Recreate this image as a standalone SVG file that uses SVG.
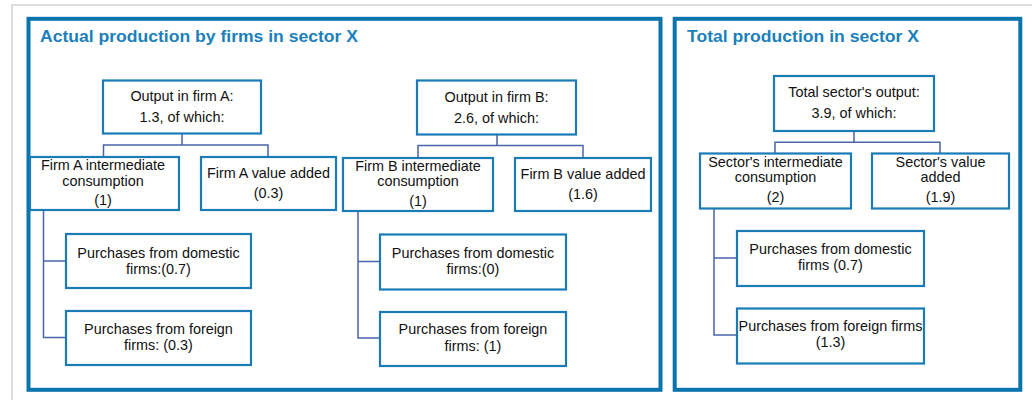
<svg xmlns="http://www.w3.org/2000/svg" width="1032" height="400" viewBox="0 0 1032 400">
<style>
.panel{fill:#fff;stroke:#0b74ad;stroke-width:4}
.box{fill:#fff;stroke:#1a7bb6;stroke-width:2.2}
.t{font-family:"Liberation Sans",Arial,sans-serif;font-size:14.4px;fill:#111;text-anchor:middle}
.title{font-family:"Liberation Sans",Arial,sans-serif;font-size:17px;font-weight:bold;fill:#1b7fbc}
.conn{fill:none;stroke:#4a64aa;stroke-width:1.5}
</style>
<rect x="0" y="0" width="1032" height="400" fill="#fff"/>
<path d="M12,400 V5 H1032" fill="none" stroke="#d2d2d2" stroke-width="1.5"/>
<g id="panel-left">
<rect class="panel" x="28.5" y="18.8" width="632" height="371"/>
<text class="title" x="40" y="42" textLength="318" lengthAdjust="spacingAndGlyphs">Actual production by firms in sector X</text>
</g>
<g id="panel-right">
<rect class="panel" x="674.7" y="18.8" width="345.6" height="371"/>
<text class="title" x="687" y="42" textLength="232" lengthAdjust="spacingAndGlyphs">Total production in sector X</text>
</g>
<g id="connectors">
<path class="conn" d="M182,134 V145 M103.5,157 V145 H268 V157"/>
<path class="conn" d="M43.5,210 V337.5 H66 M43.5,261 H66"/>
<path class="conn" d="M497,135 V145.5 M418,158 V145.5 H583 V158"/>
<path class="conn" d="M358,211 V338 H380 M358,261.5 H380"/>
<path class="conn" d="M854,131 V142.3 M775,153.5 V142.3 H940 V153.5"/>
<path class="conn" d="M714,208.5 V335 H737 M714,258 H737"/>
</g>
<g id="firmA-output">
<rect class="box" x="103" y="80.5" width="158" height="53"/>
<text class="t" x="182" y="101">Output in firm A:</text>
<text class="t" x="182" y="122">1.3, of which:</text>
</g>
<g id="firmA-ic">
<rect class="box" x="30" y="157" width="149" height="53"/>
<text class="t" x="103" y="170">Firm A intermediate</text>
<text class="t" x="103" y="185.5">consumption</text>
<text class="t" x="103" y="205">(1)</text>
</g>
<g id="firmA-va">
<rect class="box" x="201" y="157" width="135" height="53"/>
<text class="t" x="268.5" y="177.5">Firm A value added</text>
<text class="t" x="268.5" y="198">(0.3)</text>
</g>
<g id="firmA-dom">
<rect class="box" x="66" y="234" width="185" height="54"/>
<text class="t" x="158.5" y="257.5">Purchases from domestic</text>
<text class="t" x="158.5" y="273.5">firms:(0.7)</text>
</g>
<g id="firmA-for">
<rect class="box" x="66" y="311" width="185" height="54"/>
<text class="t" x="158.5" y="333.5">Purchases from foreign</text>
<text class="t" x="158.5" y="350">firms: (0.3)</text>
</g>
<g id="firmB-output">
<rect class="box" x="417" y="80.5" width="159" height="54"/>
<text class="t" x="496.5" y="102">Output in firm B:</text>
<text class="t" x="496.5" y="122.5">2.6, of which:</text>
</g>
<g id="firmB-ic">
<rect class="box" x="343" y="158" width="150" height="53"/>
<text class="t" x="418" y="170.5">Firm B intermediate</text>
<text class="t" x="418" y="186">consumption</text>
<text class="t" x="418" y="205.5">(1)</text>
</g>
<g id="firmB-va">
<rect class="box" x="515" y="158" width="136" height="53"/>
<text class="t" x="583" y="178.5">Firm B value added</text>
<text class="t" x="583" y="198.5">(1.6)</text>
</g>
<g id="firmB-dom">
<rect class="box" x="380" y="234.5" width="186" height="55"/>
<text class="t" x="473" y="257.5">Purchases from domestic</text>
<text class="t" x="473" y="274">firms:(0)</text>
</g>
<g id="firmB-for">
<rect class="box" x="380" y="312" width="186" height="54"/>
<text class="t" x="473" y="333.5">Purchases from foreign</text>
<text class="t" x="473" y="351">firms: (1)</text>
</g>
<g id="sector-output">
<rect class="box" x="774" y="76" width="160" height="55"/>
<text class="t" x="854" y="97">Total sector's output:</text>
<text class="t" x="854" y="117.5">3.9, of which:</text>
</g>
<g id="sector-ic">
<rect class="box" x="700" y="153.5" width="151" height="55"/>
<text class="t" x="775.5" y="167">Sector's intermediate</text>
<text class="t" x="775.5" y="182">consumption</text>
<text class="t" x="775.5" y="202">(2)</text>
</g>
<g id="sector-va">
<rect class="box" x="872" y="153.5" width="137" height="55"/>
<text class="t" x="940.5" y="167">Sector's value</text>
<text class="t" x="940.5" y="182">added</text>
<text class="t" x="940.5" y="202">(1.9)</text>
</g>
<g id="sector-dom">
<rect class="box" x="737" y="231" width="187" height="55"/>
<text class="t" x="830.5" y="254">Purchases from domestic</text>
<text class="t" x="830.5" y="270">firms (0.7)</text>
</g>
<g id="sector-for">
<rect class="box" x="737" y="308.5" width="187" height="55"/>
<text class="t" x="830.5" y="331">Purchases from foreign firms</text>
<text class="t" x="830.5" y="347">(1.3)</text>
</g>
</svg>
